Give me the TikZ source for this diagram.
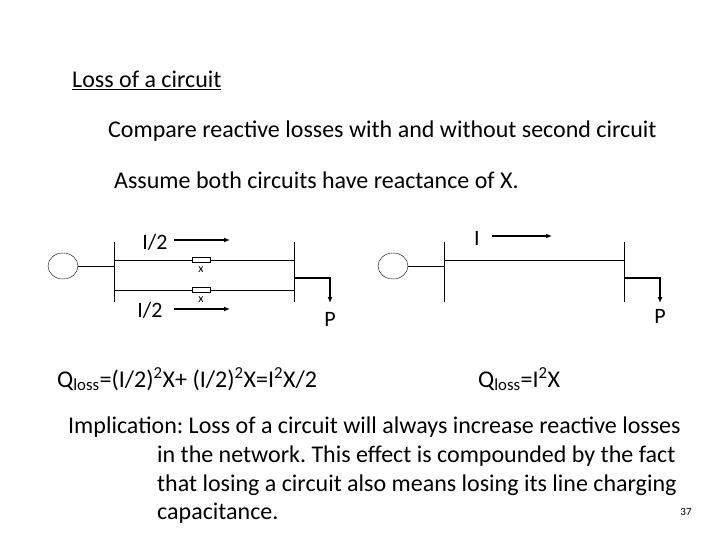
\documentclass[tikz,border=0pt]{standalone}
\usepackage{fontspec}
\setmainfont{Carlito}
\frenchspacing
\usetikzlibrary{arrows.meta,shapes.geometric}
\begin{document}
\begin{tikzpicture}[x=1pt,y=-1pt,
  txt/.style={font=\fontsize{24}{28}\selectfont,anchor=west,inner sep=0},
  lab/.style={font=\fontsize{22}{26}\selectfont,inner sep=0},
  small/.style={font=\fontsize{12}{14}\selectfont,inner sep=0},
  wire/.style={line width=0.8pt},
  arr/.style={line width=1.2pt,-{Latex[length=6pt,width=5pt]}},
  gen/.style={draw,ellipse,minimum width=30pt,minimum height=26pt,inner sep=0},
  res/.style={draw,fill=white,minimum width=18pt,minimum height=5pt,inner sep=0}]
\useasboundingbox (0,0) rectangle (720,540);
\node[txt] (t1) at (72,80) {\underline{Loss of a circuit}};
\node[txt] (t2) at (108,131) {Compare reactive losses with and without second circuit};
\node[txt] (t3) at (114,180) {Assume both circuits have reactance of X.};
% left diagram
\node[gen] (g1) at (63,266) {};
\coordinate (b1t) at (114,242); \coordinate (b1b) at (114,302);
\coordinate (b2t) at (294,242); \coordinate (b2b) at (294,302);
\draw[wire] (b1t) -- (b1b); \draw[wire] (b2t) -- (b2b);
\draw[wire] (g1.east) -- (114,266);
\draw[wire] (114,260) -- (294,260);
\draw[wire] (114,290) -- (294,290);
\node[res] (r1) at (201,260) {};
\node[res] (r2) at (201,290) {};
\node[small] (x1) at (201,270) {x};
\node[small] (x2) at (201,300) {x};
\node[lab] (l1) at (155,242) {I/2};
\node[lab] (l2) at (150,310) {I/2};
\coordinate (a1s) at (174,240); \coordinate (a1e) at (230,240);
\coordinate (a2s) at (174,309); \coordinate (a2e) at (230,309);
\draw[arr] (a1s) -- (a1e); \draw[arr] (a2s) -- (a2e);
\draw[line width=1.2pt,-{Latex[length=6pt,width=5pt]}] (294,278) -- (330,278) -- (330,303);
\node[lab] (p1) at (330,319) {P};
% right diagram
\node[gen] (g2) at (393,266) {};
\draw[wire] (444,242) -- (444,302); \draw[wire] (624,242) -- (624,302);
\draw[wire] (g2.east) -- (444,266);
\draw[wire] (444,260) -- (624,260);
\node[lab] (l3) at (477,238) {I};
\draw[arr] (492,236) -- (552,236);
\draw[line width=1.2pt,-{Latex[length=6pt,width=5pt]}] (624,278) -- (660,278) -- (660,303);
\node[lab] (p2) at (660,316) {P};
% formulas
\node[txt] (q1) at (57,379) {Q\textsubscript{loss}=(I/2)\textsuperscript{2}X+ (I/2)\textsuperscript{2}X=I\textsuperscript{2}X/2};
\node[txt] (q2) at (478,379) {Q\textsubscript{loss}=I\textsuperscript{2}X};
\node[txt] (i1) at (68,427) {Implication: Loss of a circuit will always increase reactive losses};
\node[txt] (i2) at (157,456) {in the network. This effect is compounded by the fact};
\node[txt] (i3) at (157,485) {that losing a circuit also means losing its line charging};
\node[txt] (i4) at (157,513) {capacitance.};
\node[font=\fontsize{11}{13}\selectfont,inner sep=0] (pg) at (686,512) {37};
\end{tikzpicture}
\end{document}
